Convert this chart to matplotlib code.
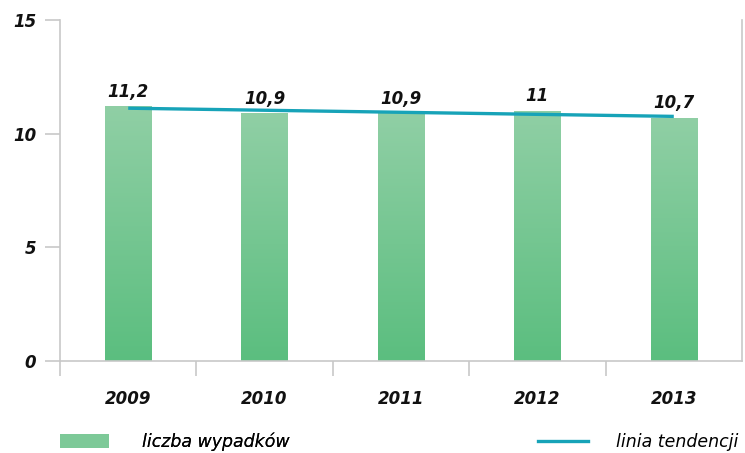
import numpy as np
import matplotlib
matplotlib.use("Agg")
import matplotlib.pyplot as plt
from matplotlib.colors import LinearSegmentedColormap
from matplotlib.lines import Line2D
from matplotlib.patches import Patch

matplotlib.rcParams.update({"font.family": "DejaVu Sans"})

years = ["2009", "2010", "2011", "2012", "2013"]
values = [11.2, 10.9, 10.9, 11.0, 10.7]
labels = ["11,2", "10,9", "10,9", "11", "10,7"]

GRAY = "#C8C8C8"
TEAL = "#17A3B8"
cmap = LinearSegmentedColormap.from_list("g", ["#5BBE7F", "#90CFA5"])

fig = plt.figure(figsize=(7.45, 4.53), dpi=100)
ax = fig.add_axes([60 / 745, 92 / 453, 682 / 745, 341 / 453])

x = np.arange(len(years))
bars = ax.bar(x, values, width=0.34, color="none", edgecolor="none")
grad = np.linspace(0, 1, 256).reshape(-1, 1)
for b in bars:
    im = ax.imshow(grad, cmap=cmap, origin="lower", aspect="auto",
                   extent=[b.get_x(), b.get_x() + b.get_width(), 0, b.get_height()],
                   zorder=2)
    im.set_clip_path(b)

for xi, v, lab in zip(x, values, labels):
    ax.annotate(lab, (xi, v), xytext=(0, 4), textcoords="offset points",
                ha="center", va="bottom", fontsize=12, fontweight="bold",
                fontstyle="italic", color="#111111")

# linia tendencji (dopasowanie liniowe)
k, c = np.polyfit(x, values, 1)
ax.plot(x, k * x + c, color=TEAL, lw=2.4, zorder=3, solid_capstyle="butt")

ax.set_xlim(-0.5, len(years) - 0.5)
ax.set_ylim(0, 15)
ax.set_yticks([0, 5, 10, 15])
ax.set_xticks(x)
ax.set_xticklabels(years)
ax.set_xticks(np.arange(-0.5, len(years) - 1), minor=True)

ax.spines["top"].set_visible(False)
for s in ["left", "bottom", "right"]:
    ax.spines[s].set_color(GRAY)
    ax.spines[s].set_linewidth(1.2)

ax.tick_params(axis="y", length=11, color=GRAY, width=1.2, pad=6,
               labelsize=12, direction="out")
ax.tick_params(axis="x", which="major", length=0, pad=21, labelsize=12)
ax.tick_params(axis="x", which="minor", length=11, color=GRAY, width=1.2,
               direction="out")
for t in ax.get_xticklabels() + ax.get_yticklabels():
    t.set_fontweight("bold")
    t.set_fontstyle("italic")
    t.set_color("#111111")

h1 = Patch(facecolor="#7DC998", edgecolor="none")
h2 = Line2D([], [], color=TEAL, lw=2.4)
common = dict(loc="center left", frameon=False, borderpad=0, borderaxespad=0,
              prop={"style": "italic", "size": 12.5})
leg1 = fig.legend([h1], ["liczba wypadków"],
                  bbox_to_anchor=(60 / 745, 1 - 442 / 453),
                  handlelength=2.8, handleheight=0.85, handletextpad=1.9,
                  **common)
leg2 = fig.legend([h2], ["linia tendencji"],
                  bbox_to_anchor=(538 / 745, 1 - 442 / 453),
                  handlelength=2.9, handletextpad=1.6, **common)
fig.add_artist(leg1)

fig.savefig("out.png", dpi=100)
